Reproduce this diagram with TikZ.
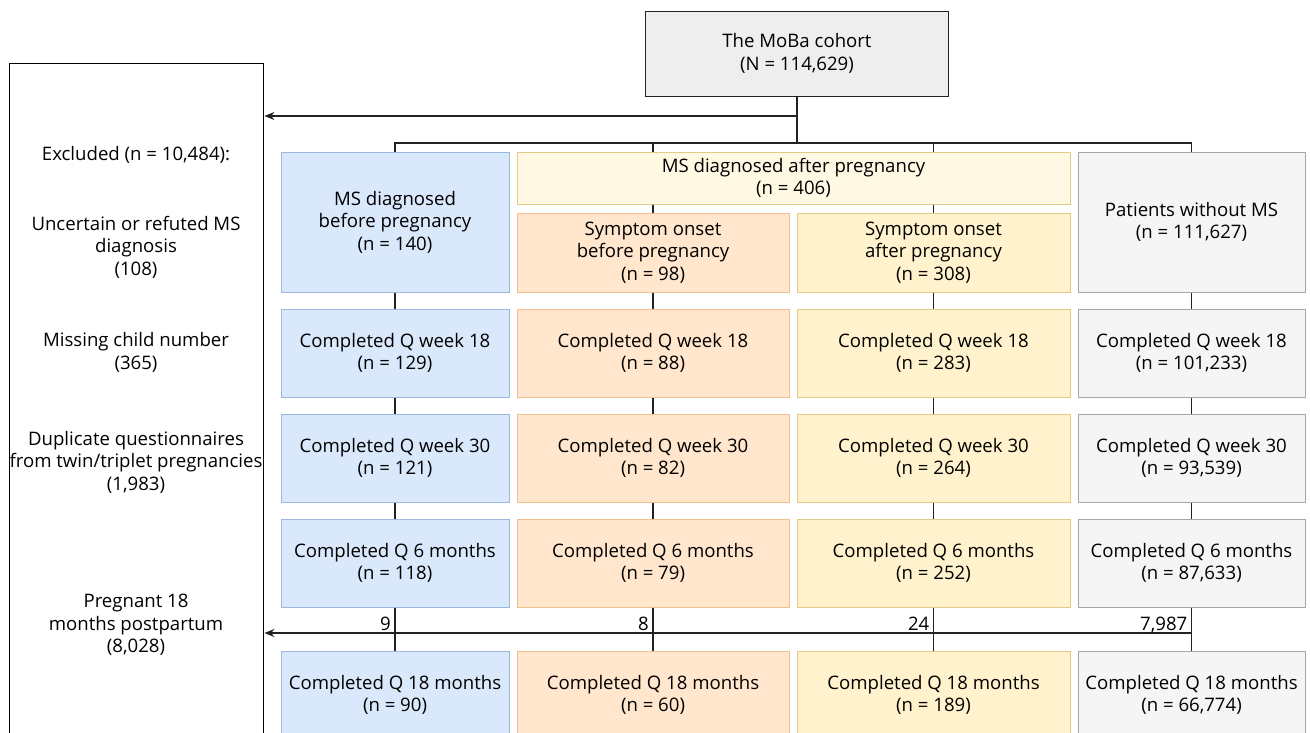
\documentclass[tikz,border=0pt]{standalone}
\usepackage{fontspec}
\setmainfont{Open Sans}
\usetikzlibrary{arrows.meta}

\definecolor{bluefill}{HTML}{DAE8FC}
\definecolor{blueline}{HTML}{9DB8DE}
\definecolor{orngfill}{HTML}{FFE6CC}
\definecolor{orngline}{HTML}{EDC08C}
\definecolor{ylwfill}{HTML}{FFF2CC}
\definecolor{ylwline}{HTML}{E3CB85}
\definecolor{paleylw}{HTML}{FFF9E4}
\definecolor{greyfill}{HTML}{F5F5F5}
\definecolor{greyline}{HTML}{A6A6A6}
\definecolor{topfill}{HTML}{EEEEEE}
\definecolor{wire}{HTML}{222222}

\begin{document}
\begin{tikzpicture}[x=1pt, y=1pt,
    box/.style={draw, align=center, inner sep=0pt, line width=1pt,
        font=\fontsize{18.6}{22.5}\selectfont},
    bluebox/.style={box, fill=bluefill, draw=blueline, minimum width=228pt},
    orngbox/.style={box, fill=orngfill, draw=orngline, minimum width=272pt},
    ylwbox/.style={box, fill=ylwfill, draw=ylwline, minimum width=273pt},
    greybox/.style={box, fill=greyfill, draw=greyline, minimum width=227pt},
    rowbox/.style={minimum height=88pt},
    exctext/.style={align=center, inner sep=0pt, font=\fontsize{18.6}{22.5}\selectfont},
    numlab/.style={anchor=base east, inner sep=0pt, font=\fontsize{18.6}{22.5}\selectfont},
    wires/.style={draw=wire, line width=1.3pt}]
    \useasboundingbox (0,0) rectangle (1310,-732);

    % cohort and exclusion box
    \node[box, fill=topfill, draw=wire, minimum width=303pt, minimum height=85pt] (cohort) at (797,-53.5) {The MoBa cohort\\(N = 114,629)};
    \node[draw=black, line width=1.4pt, fill=white, minimum width=254pt, minimum height=690pt, anchor=north west] (excl) at (9,-63) {};

    \node[exctext] (exall) at (136,-155) {Excluded (n = 10,484):};
    \node[exctext] (exdiag) at (136,-247) {Uncertain or refuted MS\\diagnosis\\(108)};
    \node[exctext] (exchild) at (136,-352.5) {Missing child number\\(365)};
    \node[exctext] (extwin) at (136,-462) {Duplicate questionnaires\\from twin/triplet pregnancies\\(1,983)};
    \node[exctext] (expreg) at (136,-625) {Pregnant 18\\months postpartum\\(8,028)};

    % groups
    \node[bluebox, minimum height=140pt] (before) at (395,-222) {MS diagnosed\\before pregnancy\\(n = 140)};
    \node[box, fill=paleylw, draw=ylwline, minimum width=553pt, minimum height=52pt] (after) at (793.5,-178) {MS diagnosed after pregnancy\\(n = 406)};
    \node[orngbox, minimum height=79pt] (onsetb) at (653,-252.5) {Symptom onset\\before pregnancy\\(n = 98)};
    \node[ylwbox, minimum height=79pt] (onseta) at (933.5,-252.5) {Symptom onset\\after pregnancy\\(n = 308)};
    \node[greybox, minimum height=140pt] (nonms) at (1191.5,-222) {Patients without MS\\(n = 111,627)};

    % week 18
    \node[bluebox, rowbox] (b18) at (395,-353) {Completed Q week 18\\(n = 129)};
    \node[orngbox, rowbox] (o18) at (653,-353) {Completed Q week 18\\(n = 88)};
    \node[ylwbox, rowbox] (y18) at (933.5,-353) {Completed Q week 18\\(n = 283)};
    \node[greybox, rowbox] (g18) at (1191.5,-353) {Completed Q week 18\\(n = 101,233)};

    % week 30
    \node[bluebox, rowbox] (b30) at (395,-458) {Completed Q week 30\\(n = 121)};
    \node[orngbox, rowbox] (o30) at (653,-458) {Completed Q week 30\\(n = 82)};
    \node[ylwbox, rowbox] (y30) at (933.5,-458) {Completed Q week 30\\(n = 264)};
    \node[greybox, rowbox] (g30) at (1191.5,-458) {Completed Q week 30\\(n = 93,539)};

    % 6 months
    \node[bluebox, rowbox] (b6m) at (395,-563) {Completed Q 6 months\\(n = 118)};
    \node[orngbox, rowbox] (o6m) at (653,-563) {Completed Q 6 months\\(n = 79)};
    \node[ylwbox, rowbox] (y6m) at (933.5,-563) {Completed Q 6 months\\(n = 252)};
    \node[greybox, rowbox] (g6m) at (1191.5,-563) {Completed Q 6 months\\(n = 87,633)};

    % 18 months
    \node[bluebox, rowbox] (b18m) at (395,-695) {Completed Q 18 months\\(n = 90)};
    \node[orngbox, rowbox] (o18m) at (653,-695) {Completed Q 18 months\\(n = 60)};
    \node[ylwbox, rowbox] (y18m) at (933.5,-695) {Completed Q 18 months\\(n = 189)};
    \node[greybox, rowbox] (g18m) at (1191.5,-695) {Completed Q 18 months\\(n = 66,774)};

    % split from the cohort
    \coordinate (exsplit) at (797,-116);
    \coordinate (split) at (797,-143);
    \draw[wires] (cohort) -- (split);
    \draw[wires, -{Stealth[length=10pt, width=8pt]}] (exsplit) -- (exsplit -| excl.east);
    \draw[wires] (before) |- (split) -| (nonms);
    \draw[wires] (onsetb |- split) -- (onsetb |- after.north);
    \draw[wires] (onseta |- split) -- (onseta |- after.north);
    \draw[wires] (onsetb |- after.south) -- (onsetb);
    \draw[wires] (onseta |- after.south) -- (onseta);

    % down the columns
    \draw[wires] (before) -- (b18);
    \draw[wires] (b18) -- (b30);
    \draw[wires] (b30) -- (b6m);
    \draw[wires] (b6m) -- (b18m);
    \draw[wires] (onsetb) -- (o18);
    \draw[wires] (o18) -- (o30);
    \draw[wires] (o30) -- (o6m);
    \draw[wires] (o6m) -- (o18m);
    \draw[wires] (onseta) -- (y18);
    \draw[wires] (y18) -- (y30);
    \draw[wires] (y30) -- (y6m);
    \draw[wires] (y6m) -- (y18m);
    \draw[wires] (nonms) -- (g18);
    \draw[wires] (g18) -- (g30);
    \draw[wires] (g30) -- (g6m);
    \draw[wires] (g6m) -- (g18m);

    % pregnant again before 18 months
    \coordinate (exrow) at (1191.5,-633);
    \draw[wires, -{Stealth[length=10pt, width=8pt]}] (exrow) -- (exrow -| excl.east);
    \node[numlab] (nb) at (391,-630) {9};
    \node[numlab] (no) at (649,-630) {8};
    \node[numlab] (ny) at (929.5,-630) {24};
    \node[numlab] (ng) at (1187.5,-630) {7,987};
\end{tikzpicture}
\end{document}
